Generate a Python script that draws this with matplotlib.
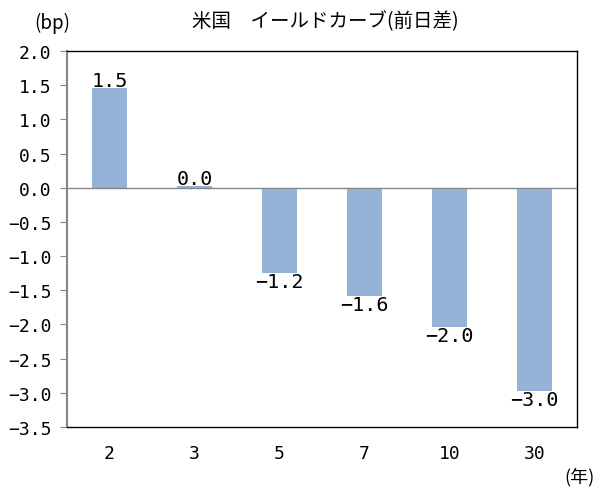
import matplotlib
matplotlib.use("Agg")
import matplotlib.pyplot as plt
import numpy as np

plt.rcParams['font.family'] = ['Noto Sans CJK JP', 'DejaVu Sans']

categories = ["2", "3", "5", "7", "10", "30"]
values = [1.46, 0.02, -1.25, -1.59, -2.04, -2.98]
labels = ["1.5", "0.0", "-1.2", "-1.6", "-2.0", "-3.0"]
yticks = [2.0, 1.5, 1.0, 0.5, 0.0, -0.5, -1.0, -1.5, -2.0, -2.5, -3.0, -3.5]

num_font = ['DejaVu Sans Mono']
MINUS = "\u2212"

fig = plt.figure(figsize=(6.03, 4.89), dpi=100)
ax = fig.add_axes([67/603, 1-428/489, 510/603, 376/489])

x = np.arange(len(categories))
ax.bar(x, values, width=0.41, color="#95b3d7", zorder=2)
ax.axhline(0, color="#868686", lw=1.0, zorder=3)

ax.set_xlim(-0.5, len(categories) - 0.5)
ax.set_ylim(-3.5, 2.0)
ax.set_yticks(yticks)
ax.set_yticklabels([f"{v:.1f}".replace("-", MINUS) for v in yticks], fontsize=13, family=num_font)
ax.set_xticks(x)
ax.set_xticklabels(categories, fontsize=13, family=num_font)
ax.tick_params(axis='x', length=0, pad=12)
ax.tick_params(axis='y', length=5, color="#868686", direction='out', pad=6)

for s in ['top', 'right', 'bottom']:
    ax.spines[s].set_color('black')
    ax.spines[s].set_linewidth(1.0)
ax.spines['left'].set_color('#868686')
ax.spines['left'].set_linewidth(1.5)

for xi, v, lab in zip(x, values, labels):
    lab = lab.replace("-", MINUS)
    if v >= 0:
        ax.text(xi, v - 0.03, lab, ha='center', va='bottom', fontsize=14.5, family=num_font, zorder=4)
    else:
        ax.text(xi, v + 0.02, lab, ha='center', va='top', fontsize=14.5, family=num_font, zorder=4)

fig.text(325/603, 1-22/489, "米国　イールドカーブ(前日差)", ha='center', va='center', fontsize=14)
fig.text(52/603, 1-23/489, "(bp)", ha='center', va='center', fontsize=13.5)
fig.text(580/603, 1-477/489, "(年)", ha='center', va='center', fontsize=13)

fig.savefig("out.png", dpi=100)
